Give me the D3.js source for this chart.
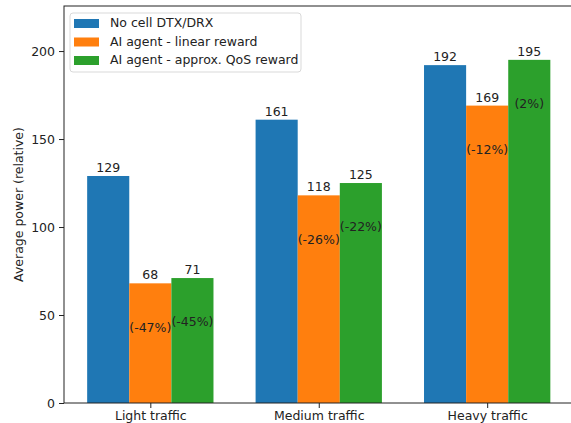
<!DOCTYPE html>
<html>
<head>
<meta charset="utf-8">
<script src="https://cdn.jsdelivr.net/npm/d3@7/dist/d3.min.js"></script>
<style>
  body { margin: 0; background: #fff; }
  svg { display: block; font-family: "DejaVu Sans", sans-serif; }
</style>
</head>
<body>
<svg id="chart" width="571" height="423"></svg>
<script>
// Traffic scenarios and average power per scheme
const categories = ["Light traffic", "Medium traffic", "Heavy traffic"];
const seriesNames = ["No cell DTX/DRX", "AI agent - linear reward", "AI agent - approx. QoS reward"];
const baseline = [129, 161, 192];
const linearReward = [68, 118, 169];
const qosReward = [71, 125, 195];
const linearChange = ["(-47%)", "(-26%)", "(-12%)"];
const qosChange = ["(-45%)", "(-22%)", "(2%)"];
const yTicks = [0, 50, 100, 150, 200];
const colors = ["#1f77b4", "#ff7f0e", "#2ca02c"];

const series = [baseline, linearReward, qosReward];
const changes = [null, linearChange, qosChange];

const svg = d3.select("#chart");
const plotLeft = 64, plotTop = 6, plotBottom = 403, plotRight = 573.5;
const fs = 12.5;

// Continuous x scale in category units (bars 0.25 wide, offsets -0.25, 0, 0.25)
const x = d3.scaleLinear().domain([-0.5125, 2.5125]).range([plotLeft, plotRight]);
const y = d3.scaleLinear().domain([0, 225.6]).range([plotBottom, plotTop]);
const barW = 0.25;
const textColor = "#222";

// Bars
series.forEach((vals, s) => {
  const off = (s - 1) * barW;
  svg.append("g").selectAll("rect").data(vals).join("rect")
    .attr("x", (d, i) => x(i + off - barW / 2))
    .attr("width", (d, i) => x(i + off + barW / 2) - x(i + off - barW / 2))
    .attr("y", d => y(d))
    .attr("height", d => y(0) - y(d))
    .attr("fill", colors[s]);

  // value labels above bars
  svg.append("g").selectAll("text").data(vals).join("text")
    .attr("x", (d, i) => x(i + off))
    .attr("y", d => y(d) - 4)
    .attr("text-anchor", "middle")
    .attr("font-size", fs)
    .attr("fill", textColor)
    .text(d => d);

  // relative change labels inside bars
  if (changes[s]) {
    svg.append("g").selectAll("text").data(vals).join("text")
      .attr("x", (d, i) => x(i + off))
      .attr("y", d => y(d - 25))
      .attr("dy", "0.35em")
      .attr("text-anchor", "middle")
      .attr("font-size", fs)
      .attr("fill", textColor)
      .text((d, i) => changes[s][i]);
  }
});

// Axes
const yAxis = d3.axisLeft(y).tickValues(yTicks).tickSize(5).tickPadding(4);
const gy = svg.append("g").attr("transform", `translate(${plotLeft},0)`).call(yAxis);
gy.select(".domain").remove();
gy.selectAll("text").attr("font-size", fs).attr("fill", textColor).attr("font-family", "DejaVu Sans, sans-serif");
gy.selectAll("line").attr("stroke", "#222");

const xAxis = d3.axisBottom(x).tickValues([0, 1, 2]).tickFormat(i => categories[i]).tickSize(5).tickPadding(3);
const gx = svg.append("g").attr("transform", `translate(0,${plotBottom})`).call(xAxis);
gx.select(".domain").remove();
gx.selectAll("text").attr("font-size", fs).attr("fill", textColor).attr("font-family", "DejaVu Sans, sans-serif");
gx.selectAll("line").attr("stroke", "#222");

// Frame (spines)
svg.append("rect")
  .attr("x", plotLeft).attr("y", plotTop)
  .attr("width", plotRight - plotLeft).attr("height", plotBottom - plotTop)
  .attr("fill", "none").attr("stroke", "#222").attr("stroke-width", 1);

// Y axis title
svg.append("text")
  .attr("transform", `translate(23,${(plotTop + plotBottom) / 2}) rotate(-90)`)
  .attr("text-anchor", "middle")
  .attr("font-size", fs)
  .attr("fill", textColor)
  .text("Average power (relative)");

// Legend
const lg = svg.append("g").attr("transform", "translate(70,13)");
lg.append("rect")
  .attr("width", 231).attr("height", 59).attr("rx", 3)
  .attr("fill", "#fff").attr("fill-opacity", 0.8)
  .attr("stroke", "#d9d9d9");
seriesNames.forEach((name, i) => {
  const row = lg.append("g").attr("transform", `translate(4,${10 + i * 18.5})`);
  row.append("rect").attr("x", 0).attr("y", -4).attr("width", 25).attr("height", 9).attr("fill", colors[i]);
  row.append("text").attr("x", 36).attr("y", 0).attr("dy", "0.35em")
    .attr("font-size", fs).attr("fill", textColor).text(name);
});
</script>
</body>
</html>
